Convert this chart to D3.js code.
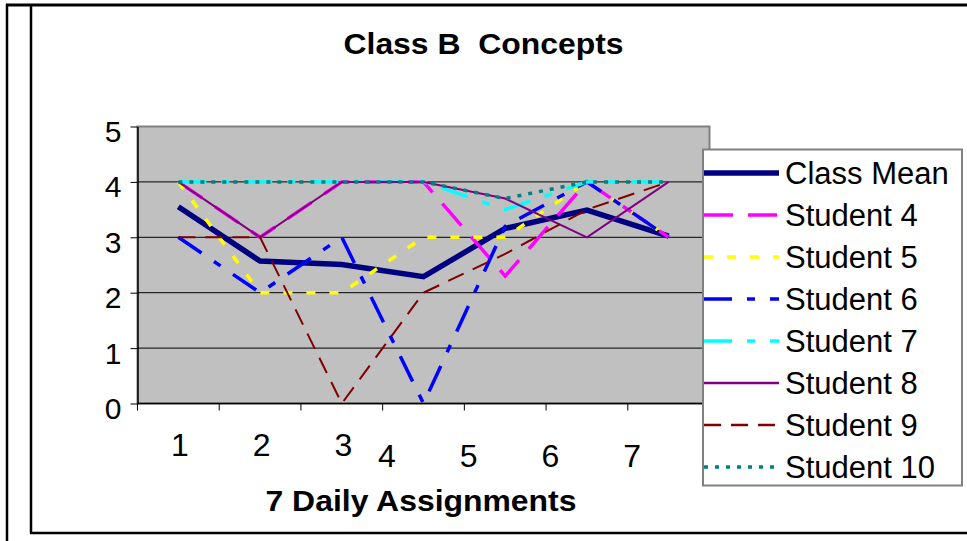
<!DOCTYPE html>
<html>
<head>
<meta charset="utf-8">
<script src="https://cdn.jsdelivr.net/npm/d3@7"></script>
<style>
  body { margin: 0; background: #fff; }
  svg { display: block; font-family: "Liberation Sans", Arial, sans-serif; }
</style>
</head>
<body>
<div id="chart"></div>
<script>
// data
const days = [1, 2, 3, 4, 5, 6, 7];
const yTicks = [0, 1, 2, 3, 4, 5];
const seriesNames = ["Class Mean", "Student 4", "Student 5", "Student 6", "Student 7", "Student 8", "Student 9", "Student 10"];
const classMean = [3.55, 2.57, 2.51, 2.29, 3.16, 3.49, 3.02];
const student4 = [4, 3, 4, 4, 2.3, 4, 3];
const student5 = [4, 2, 2, 3, 3, 4, 3];
const student6 = [3, 2, 3, 0, 3.2, 4, 3];
const student7 = [4, 4, 4, 4, 3.5, 4, 4];
const student8 = [4, 3, 4, 4, 3.7, 3, 4];
const student9 = [3, 3, 0, 2, 2.7, 3.5, 4];
const student10 = [4, 4, 4, 4, 3.7, 4, 4];

const allValues = [classMean, student4, student5, student6, student7, student8, student9, student10];

// line styles, same order as seriesNames
const styles = [
    {color: "#000080", width: 5.5, dash: null},
    {color: "#FF00FF", width: 3.5, dash: "29,15"},
    {color: "#FFFF00", width: 3.5, dash: "9,14"},
    {color: "#0000FF", width: 3.5, dash: "28,15,8,15"},
    {color: "#00FFFF", width: 3.5, dash: "28,15,8,15"},
    {color: "#800080", width: 2, dash: null},
    {color: "#800000", width: 2, dash: "17,10"},
    {color: "#008080", width: 3.5, dash: "4,7"}
];

const W = 967, H = 541;
const plot = {left: 137.5, right: 709.5, top: 126.5, bottom: 403.5};
const FONT = "'Liberation Sans', Arial, sans-serif";

const svg = d3.select("#chart").append("svg")
              .attr("width", W)
              .attr("height", H);

// outer frame lines
const frame = svg.append("g").attr("stroke", "#000").attr("fill", "none");
frame.append("path").attr("d", "M7,4V541").attr("stroke-width", 2.5);
frame.append("path").attr("d", "M6,5H967").attr("stroke-width", 3);
frame.append("path").attr("d", "M31,5V533.5").attr("stroke-width", 2.5);
frame.append("path").attr("d", "M30,533H967").attr("stroke-width", 2.5);

const x = d3.scaleBand()
            .domain(days)
            .range([plot.left, plot.right])
            .padding(0);

const y = d3.scaleLinear()
            .domain([0, 5])
            .range([plot.bottom, plot.top]);

const cx = d => x(d) + x.bandwidth() / 2;

// plot area
svg.append("rect")
   .attr("x", plot.left)
   .attr("y", plot.top)
   .attr("width", plot.right - plot.left)
   .attr("height", plot.bottom - plot.top)
   .attr("fill", "#C0C0C0")
   .attr("stroke", "#808080")
   .attr("stroke-width", 2);

// gridlines
svg.append("g")
   .selectAll("line")
   .data(yTicks.filter(v => v > 0 && v < 5))
   .enter()
   .append("line")
   .attr("x1", plot.left)
   .attr("x2", plot.right)
   .attr("y1", d => y(d))
   .attr("y2", d => y(d))
   .attr("stroke", "#000")
   .attr("stroke-width", 1);

// y axis
const yAxis = svg.append("g")
                 .attr("transform", "translate(" + plot.left + ",0)")
                 .call(d3.axisLeft(y).tickValues(yTicks).tickFormat(d3.format("d"))
                                     .tickSize(7).tickSizeOuter(0).tickPadding(9));
yAxis.attr("font-family", FONT).attr("font-size", 30);
yAxis.select(".domain").attr("stroke", "#000").attr("stroke-width", 1.5);
yAxis.selectAll(".tick line").attr("stroke", "#000");
yAxis.selectAll("text")
     .attr("fill", "#000")
     .attr("dy", "0.5em");

// x axis: boundary ticks between categories
const bounds = days.map(d => x(d)).concat([x.range()[1]]);
const xAxis = svg.append("g")
                 .attr("transform", "translate(0," + plot.bottom + ")");
xAxis.append("line")
     .attr("x1", plot.left)
     .attr("x2", plot.right)
     .attr("stroke", "#000")
     .attr("stroke-width", 1.5);
xAxis.selectAll("line.tk")
     .data(bounds)
     .enter()
     .append("line")
     .attr("class", "tk")
     .attr("x1", d => d)
     .attr("x2", d => d)
     .attr("y1", 0)
     .attr("y2", 7)
     .attr("stroke", "#000");

// category labels (the reference draws 4-7 shifted left and lower)
const xLabels = svg.append("g")
                   .attr("transform", "translate(0," + plot.bottom + ")")
                   .call(d3.axisBottom(x).tickSize(0).tickPadding(0));
xLabels.attr("font-family", FONT).attr("font-size", 32);
xLabels.select(".domain").remove();
xLabels.selectAll(".tick text")
       .attr("fill", "#000")
       .attr("y", d => d >= 4 ? 63 : 52)
       .attr("dy", 0)
       .attr("x", d => d >= 4 ? -36.5 : 1.5);

// series
const line = d3.line()
               .x((v, i) => cx(days[i]))
               .y(v => y(v));

svg.append("g")
   .selectAll("path")
   .data(allValues)
   .enter()
   .append("path")
   .attr("d", d => line(d))
   .attr("fill", "none")
   .attr("stroke", (d, i) => styles[i].color)
   .attr("stroke-width", (d, i) => styles[i].width)
   .attr("stroke-dasharray", (d, i) => styles[i].dash)
   .attr("stroke-linejoin", "miter");

// titles
svg.append("text")
   .attr("x", 483.5)
   .attr("y", 54)
   .attr("text-anchor", "middle")
   .attr("font-size", 29)
   .attr("font-weight", "bold")
   .attr("textLength", 280)
   .attr("lengthAdjust", "spacingAndGlyphs")
   .style("white-space", "pre")
   .text("Class B  Concepts");

svg.append("text")
   .attr("x", 421)
   .attr("y", 511)
   .attr("text-anchor", "middle")
   .attr("font-size", 30)
   .attr("font-weight", "bold")
   .attr("textLength", 311)
   .attr("lengthAdjust", "spacingAndGlyphs")
   .text("7 Daily Assignments");

// legend
const legend = svg.append("g");
legend.append("rect")
      .attr("x", 703)
      .attr("y", 149.5)
      .attr("width", 259)
      .attr("height", 336)
      .attr("fill", "#fff")
      .attr("stroke", "#808080")
      .attr("stroke-width", 2);

const item = legend.selectAll("g.item")
                   .data(seriesNames)
                   .enter()
                   .append("g")
                   .attr("class", "item")
                   .attr("transform", (d, i) => "translate(0," + (173 + i * 42) + ")");

item.append("line")
    .attr("x1", 704)
    .attr("x2", 779)
    .attr("stroke", (d, i) => styles[i].color)
    .attr("stroke-width", (d, i) => i === 0 ? 5.5 : Math.max(styles[i].width, 2.5))
    .attr("stroke-dasharray", (d, i) => styles[i].dash);

item.append("text")
    .attr("x", 785)
    .attr("y", 11)
    .attr("font-size", 31)
    .text(d => d);
</script>
</body>
</html>
